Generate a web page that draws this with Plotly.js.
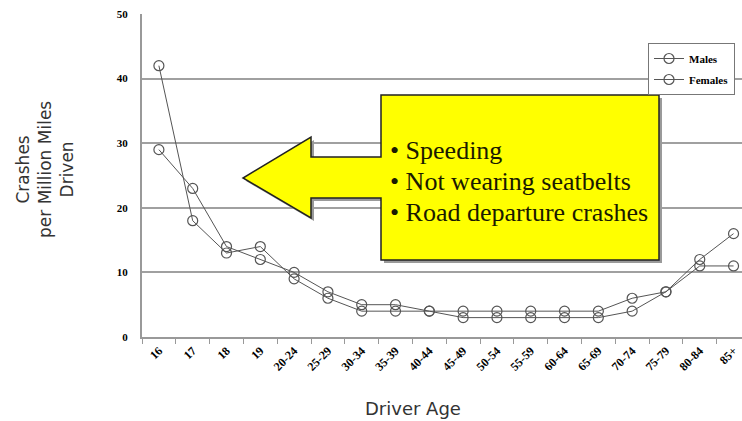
<!DOCTYPE html>
<html>
<head>
<meta charset="utf-8">
<script src="https://cdn.plot.ly/plotly-3.0.1.min.js"></script>
<style>html,body{margin:0;padding:0;background:#fff;}#chart{width:742px;height:421px;}</style>
</head>
<body>
<div id="chart"></div>
<script>
// ---- data ----
var ageGroups = ["16","17","18","19","20-24","25-29","30-34","35-39","40-44","45-49","50-54","55-59","60-64","65-69","70-74","75-79","80-84","85+"];
var males   = [29, 23, 14, 12, 10, 7, 5, 5, 4, 4, 4, 4, 4, 4, 6, 7, 11, 11];
var females = [42, 18, 13, 14, 9, 6, 4, 4, 4, 3, 3, 3, 3, 3, 4, 7, 12, 16];
var seriesNames = ["Males", "Females"];
var yTicks = [0, 10, 20, 30, 40, 50];
var calloutLines = ["\u2022 Speeding", "\u2022 Not wearing seatbelts", "\u2022 Road departure crashes"];

// ---- layout helpers (pixel -> paper) ----
var W = 742, H = 421, L = 142, T = 14, B = 84, R = 0;
var PW = W - L - R, PH = H - T - B;
function px(x){ return (x - L) / PW; }
function py(y){ return (H - B - y) / PH; }
function pathFrom(pts, dx, dy){
  return pts.map(function(p, i){ return (i ? 'L' : 'M') + px(p[0] + dx).toFixed(5) + ',' + py(p[1] + dy).toFixed(5); }).join(' ') + ' Z';
}
var arrowPts = [[381,95],[659,95],[659,260],[381,260],[381,198],[311,198],[311,218],[243,178],[311,137],[311,157],[381,157]];

var lineStyle = {color: '#555', width: 1};
var markerStyle = {symbol: 'circle-open', size: 10, color: '#555', line: {width: 1.2, color: '#555'}};
var traces = [
  {x: ageGroups, y: males, name: seriesNames[0], legendgroup: 'm', type: 'scatter', mode: 'lines+markers', line: lineStyle, marker: markerStyle},
  {x: ageGroups, y: females, name: seriesNames[1], legendgroup: 'f', type: 'scatter', mode: 'lines+markers', line: lineStyle, marker: markerStyle}
];

var tickFont = {family: 'Liberation Serif, Times New Roman, serif', size: 12, color: '#000', weight: 'bold'};
var titleFont = {family: 'DejaVu Sans, sans-serif', size: 17, color: '#333'};
var annotations = [
  {xref: 'paper', yref: 'paper', x: px(45), y: py(170), text: 'Crashes<br>per Million Miles<br>Driven', showarrow: false, textangle: -90,
   font: titleFont, xanchor: 'center', yanchor: 'middle', align: 'center'},
  {xref: 'paper', yref: 'paper', x: px(413), y: py(408), text: 'Driver Age', showarrow: false,
   font: {family: 'DejaVu Sans, sans-serif', size: 18, color: '#333'}, xanchor: 'center', yanchor: 'middle'}
];
var lineY = [150, 181, 212];
calloutLines.forEach(function(t, i){
  annotations.push({xref: 'paper', yref: 'paper', x: px(388), y: py(lineY[i]), text: t, showarrow: false,
    font: {family: 'Liberation Serif, Times New Roman, serif', size: 26, color: '#1a1a00'}, xanchor: 'left', yanchor: 'middle', align: 'left'});
});

var layout = {
  width: W, height: H,
  margin: {l: L, r: R, t: T, b: B, pad: 0},
  paper_bgcolor: '#fff', plot_bgcolor: '#fff',
  showlegend: true,
  legend: {x: px(735), y: py(43), xanchor: 'right', yanchor: 'top', bgcolor: '#fff', bordercolor: '#777', borderwidth: 1,
    font: {family: 'Liberation Serif, Times New Roman, serif', size: 11, color: '#000', weight: 'bold'},
    traceorder: 'grouped', tracegroupgap: 2, itemwidth: 30},
  xaxis: {type: 'category', range: [-0.5, 17.25], tickangle: -45, tickfont: tickFont, showgrid: false,
    showline: true, linecolor: '#999', linewidth: 2, ticks: 'outside', tickson: 'boundaries', ticklen: 5, tickcolor: '#999', tickwidth: 1,
    zeroline: false, fixedrange: true},
  yaxis: {range: [0, 50], tickvals: yTicks, tickfont: {family: tickFont.family, size: 11, color: '#000', weight: 'bold'},
    showgrid: true, gridcolor: '#a0a0a0', gridwidth: 2,
    showline: true, linecolor: '#999', linewidth: 2, ticks: '', ticklabelstandoff: 10, zeroline: false, fixedrange: true},
  shapes: [
    {type: 'path', xref: 'paper', yref: 'paper', path: pathFrom(arrowPts, 3, 3), fillcolor: '#9a9a9a', line: {width: 0}, layer: 'above'},
    {type: 'path', xref: 'paper', yref: 'paper', path: pathFrom(arrowPts, 0, 0), fillcolor: '#ffff00', line: {color: '#222', width: 1.5}, layer: 'above'}
  ],
  annotations: annotations
};

Plotly.newPlot('chart', traces, layout, {displayModeBar: false, staticPlot: true});
</script>
</body>
</html>
